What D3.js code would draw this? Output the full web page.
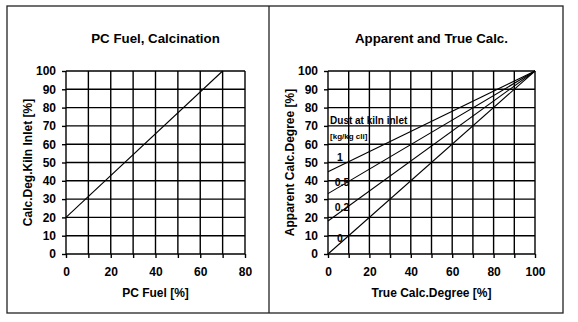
<!DOCTYPE html>
<html><head><meta charset="utf-8">
<script src="https://cdn.jsdelivr.net/npm/d3@7"></script>
<style>
body{margin:0;background:#fff;}
svg{display:block;font-family:"Liberation Sans",Arial,Helvetica,sans-serif;}
text{fill:#000;}
.ax text{font-size:12px;font-weight:bold;fill:#000;}
.ax path,.ax line{stroke:#000;stroke-width:1.4;}
.grid line{stroke:#000;stroke-width:1.4;}
</style></head><body>
<svg id="c" width="578" height="322"></svg>
<script>
// Left chart: PC Fuel vs calcination degree at kiln inlet
const leftTitle = "PC Fuel, Calcination";
const leftXLabel = "PC Fuel [%]";
const leftYLabel = "Calc.Deg.Kiln Inlet [%]";
const leftXTicks = [0, 20, 40, 60, 80];
const leftXGrid = [0, 10, 20, 30, 40, 50, 60, 70, 80];
const leftYTicks = [0, 10, 20, 30, 40, 50, 60, 70, 80, 90, 100];
const pcFuel = [0, 70];
const calcDegKiln = [20, 100];

// Right chart: apparent vs true calcination
const rightTitle = "Apparent and True Calc.";
const rightXLabel = "True Calc.Degree [%]";
const rightYLabel = "Apparent Calc.Degree [%]";
const rightXTicks = [0, 20, 40, 60, 80, 100];
const rightXGrid = [0, 10, 20, 30, 40, 50, 60, 70, 80, 90, 100];
const rightYTicks = [0, 10, 20, 30, 40, 50, 60, 70, 80, 90, 100];
const dustLabels = ["1", "0.5", "0.2", "0"];
const trueCalc = [0, 100];
const apparentDust1 = [45, 100];
const apparentDust05 = [33, 100];
const apparentDust02 = [18, 100];
const apparentDust0 = [0, 100];
const dustLabelX = [5.8, 6.8, 6.8, 5.8];
const dustLabelY = [53, 39, 25.7, 8.7];
const legendTitle = "Dust at kiln inlet";
const legendUnit = "[kg/kg cli]";

const svg = d3.select("#c");

// panel frames
svg.append("rect").attr("x",7).attr("y",6).attr("width",556).attr("height",307)
  .attr("fill","none").attr("stroke","#222").attr("stroke-width",1.3);
svg.append("line").attr("x1",269).attr("x2",269).attr("y1",6).attr("y2",313)
  .attr("stroke","#222").attr("stroke-width",1.3);

function panel(o){
  const g = svg.append("g");
  const x = d3.scaleLinear().domain(o.xd).range([o.x0,o.x1]);
  const y = d3.scaleLinear().domain([0,100]).range([o.y1,o.y0]);
  const grid = g.append("g").attr("class","grid");
  grid.selectAll(".v").data(o.xGrid).join("line")
    .attr("x1",d=>x(d)).attr("x2",d=>x(d)).attr("y1",y(0)).attr("y2",y(100));
  grid.selectAll(".h").data(o.yTicks).join("line")
    .attr("x1",x(o.xd[0])).attr("x2",x(o.xd[1])).attr("y1",d=>y(d)).attr("y2",d=>y(d));
  const ax = g.append("g").attr("class","ax").attr("transform",`translate(0,${y(0)})`)
    .call(d3.axisBottom(x).tickValues(o.xGrid).tickSize(4).tickPadding(9)
      .tickFormat(d=>o.xTicks.includes(d)?d:""));
  ax.select(".domain").remove();
  const ay = g.append("g").attr("class","ax").attr("transform",`translate(${x(o.xd[0])},0)`)
    .call(d3.axisLeft(y).tickValues(o.yTicks).tickSize(4).tickPadding(6));
  ay.select(".domain").remove();
  const cx = (o.x0+o.x1)/2;
  g.append("text").attr("x",cx).attr("y",43).attr("text-anchor","middle")
    .attr("font-size",13.3).attr("font-weight","bold").text(o.title);
  g.append("text").attr("x",cx).attr("y",297).attr("text-anchor","middle")
    .attr("font-size",12).attr("font-weight","bold").text(o.xLabel);
  g.append("text").attr("transform",`translate(${o.ylx},${(o.y0+o.y1)/2}) rotate(-90)`)
    .attr("text-anchor","middle").attr("font-size",12).attr("font-weight","bold").text(o.yLabel);
  return {g,x,y};
}

const L = panel({xd:[0,80],x0:66,x1:245,y0:71,y1:254,xGrid:leftXGrid,xTicks:leftXTicks,
  yTicks:leftYTicks,title:leftTitle,xLabel:leftXLabel,yLabel:leftYLabel,ylx:31.5});
const line = (s)=>d3.line().x(d=>s.x(d[0])).y(d=>s.y(d[1]));
L.g.append("path").datum(d3.zip(pcFuel,calcDegKiln)).attr("d",line(L))
  .attr("fill","none").attr("stroke","#000").attr("stroke-width",1.1);

const R = panel({xd:[0,100],x0:328,x1:535,y0:71,y1:254,xGrid:rightXGrid,xTicks:rightXTicks,
  yTicks:rightYTicks,title:rightTitle,xLabel:rightXLabel,yLabel:rightYLabel,ylx:293.5});
[apparentDust1,apparentDust05,apparentDust02,apparentDust0].forEach(s=>{
  R.g.append("path").datum(d3.zip(trueCalc,s)).attr("d",line(R))
    .attr("fill","none").attr("stroke","#000").attr("stroke-width",1.1);
});
R.g.selectAll(".dl").data(dustLabels).join("text")
  .attr("x",(d,i)=>R.x(dustLabelX[i])).attr("y",(d,i)=>R.y(dustLabelY[i]))
  .attr("dy","0.35em").attr("text-anchor","middle")
  .attr("font-size",10.5).attr("font-weight","bold").text(d=>d);
R.g.append("text").attr("x",R.x(1)).attr("y",R.y(72.7)).attr("dy","0.35em")
  .attr("font-size",10).attr("font-weight","bold").text(legendTitle);
R.g.append("text").attr("x",R.x(1)).attr("y",R.y(64.5)).attr("dy","0.35em")
  .attr("font-size",8).attr("font-weight","bold").text(legendUnit);
</script></body></html>
